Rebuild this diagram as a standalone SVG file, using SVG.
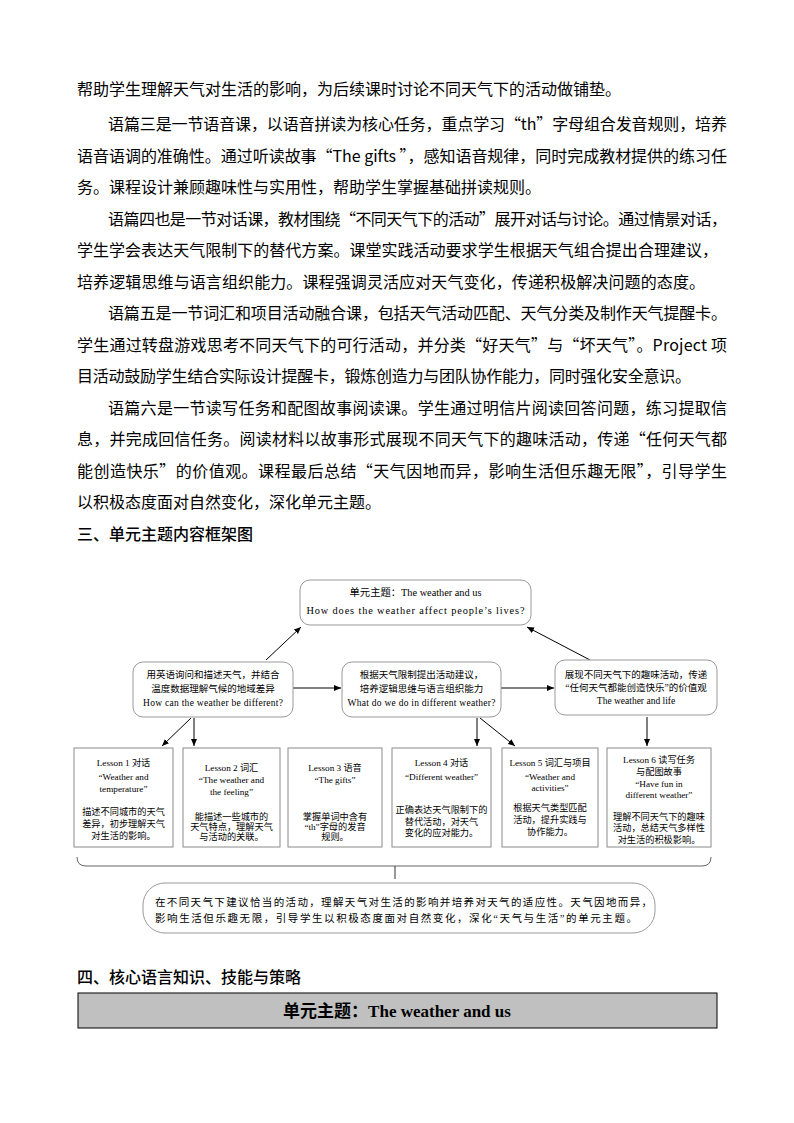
<svg xmlns="http://www.w3.org/2000/svg" width="794" height="1123" viewBox="0 0 794 1123">
<style>
.body{font-family:"Noto Sans CJK SC","Liberation Serif",sans-serif;font-size:16px;fill:#000}
.d{font-family:"Liberation Serif","Noto Sans CJK SC",serif;fill:#000}
.t10{font-size:10.3px}
.t95{font-size:9.5px}
.t9{font-size:9.2px}
.rbox{fill:#fff;stroke:#9a9a9a;stroke-width:1}
.lbox{fill:#fff;stroke:#8a8a8a;stroke-width:1}
.ln{stroke:#000;stroke-width:1;fill:none}
</style>
<defs>
<marker id="ah" markerWidth="8" markerHeight="8" refX="7" refY="4" orient="auto" markerUnits="userSpaceOnUse">
<path d="M0,1 L7,4 L0,7 Z" fill="#000"/>
</marker>
</defs>
<rect width="794" height="1123" fill="#fff"/>

<g id="bodytext">
<text class="body" x="77" y="95">帮助学生理解天气对生活的影响，为后续课时讨论不同天气下的活动做铺垫。</text>
<text class="body" x="108" y="130" textLength="619" lengthAdjust="spacing">语篇三是一节语音课，以语音拼读为核心任务，重点学习“th”字母组合发音规则，培养</text>
<text class="body" x="77" y="161.5" textLength="650" lengthAdjust="spacing">语音语调的准确性。通过听读故事“The gifts ”，感知语音规律，同时完成教材提供的练习任</text>
<text class="body" x="77" y="193">务。课程设计兼顾趣味性与实用性，帮助学生掌握基础拼读规则。</text>
<text class="body" x="108" y="224.5" textLength="619" lengthAdjust="spacing">语篇四也是一节对话课，教材围绕“不同天气下的活动”展开对话与讨论。通过情景对话，</text>
<text class="body" x="77" y="256" textLength="641" lengthAdjust="spacing">学生学会表达天气限制下的替代方案。课堂实践活动要求学生根据天气组合提出合理建议，</text>
<text class="body" x="77" y="287.5" textLength="628" lengthAdjust="spacing">培养逻辑思维与语言组织能力。课程强调灵活应对天气变化，传递积极解决问题的态度。</text>
<text class="body" x="108" y="319" textLength="619" lengthAdjust="spacing">语篇五是一节词汇和项目活动融合课，包括天气活动匹配、天气分类及制作天气提醒卡。</text>
<text class="body" x="77" y="350.5" textLength="650" lengthAdjust="spacing">学生通过转盘游戏思考不同天气下的可行活动，并分类“好天气”与“坏天气”。Project 项</text>
<text class="body" x="77" y="382" textLength="614" lengthAdjust="spacing">目活动鼓励学生结合实际设计提醒卡，锻炼创造力与团队协作能力，同时强化安全意识。</text>
<text class="body" x="108" y="413.5" textLength="619" lengthAdjust="spacing">语篇六是一节读写任务和配图故事阅读课。学生通过明信片阅读回答问题，练习提取信</text>
<text class="body" x="77" y="445" textLength="650" lengthAdjust="spacing">息，并完成回信任务。阅读材料以故事形式展现不同天气下的趣味活动，传递“任何天气都</text>
<text class="body" x="77" y="476.5" textLength="650" lengthAdjust="spacing">能创造快乐”的价值观。课程最后总结“天气因地而异，影响生活但乐趣无限”，引导学生</text>
<text class="body" x="77" y="508">以积极态度面对自然变化，深化单元主题。</text>
<text class="body" x="77" y="539.5" font-weight="500">三、单元主题内容框架图</text>
</g>

<g id="connectors">
<line class="ln" x1="266" y1="660" x2="301" y2="627" marker-end="url(#ah)"/>
<line class="ln" x1="590" y1="660" x2="527" y2="627" marker-end="url(#ah)"/>
<line class="ln" x1="293" y1="688" x2="341" y2="688" marker-end="url(#ah)"/>
<line class="ln" x1="501" y1="688" x2="554" y2="688" marker-end="url(#ah)"/>
<line class="ln" x1="191" y1="718" x2="162" y2="746" marker-end="url(#ah)"/>
<line class="ln" x1="194" y1="718" x2="194" y2="746" marker-end="url(#ah)"/>
<line class="ln" x1="477" y1="718" x2="477" y2="746" marker-end="url(#ah)"/>
<line class="ln" x1="480" y1="718" x2="515" y2="746" marker-end="url(#ah)"/>
<line class="ln" x1="647" y1="717" x2="647" y2="746" marker-end="url(#ah)"/>
<path d="M77,857 Q77,866 86,866 L702,866 Q711,866 711,857" stroke="#666" stroke-width="1" fill="none"/>
<line x1="395" y1="866" x2="395" y2="879" stroke="#333" stroke-width="1"/>
</g>

<g id="top">
<rect class="rbox" x="300" y="580" width="231" height="45" rx="10"/>
<text class="d t10" x="415.5" y="596" text-anchor="middle">单元主题：The weather and us</text>
<text class="d t10" x="415.5" y="614" text-anchor="middle" textLength="218" lengthAdjust="spacing">How does the weather affect people’s lives?</text>
</g>

<g id="mid-left">
<rect class="rbox" x="133" y="662" width="160" height="55" rx="10"/>
<text class="d t95" x="213" y="677.5" text-anchor="middle">用英语询问和描述天气，并结合</text>
<text class="d t95" x="213" y="691.5" text-anchor="middle">温度数据理解气候的地域差异</text>
<text class="d t95" x="213" y="705.5" text-anchor="middle" textLength="140" lengthAdjust="spacing">How can the weather be different?</text>
</g>

<g id="mid-center">
<rect class="rbox" x="342" y="662" width="159" height="55" rx="10"/>
<text class="d t95" x="421.5" y="677.5" text-anchor="middle">根据天气限制提出活动建议，</text>
<text class="d t95" x="421.5" y="691.5" text-anchor="middle">培养逻辑思维与语言组织能力</text>
<text class="d t95" x="421.5" y="705.5" text-anchor="middle" textLength="148" lengthAdjust="spacing">What do we do in different weather?</text>
</g>

<g id="mid-right">
<rect class="rbox" x="555" y="660" width="162" height="55" rx="10"/>
<text class="d t95" x="636" y="678" text-anchor="middle">展现不同天气下的趣味活动，传递</text>
<text class="d t95" x="636" y="690.5" text-anchor="middle">“任何天气都能创造快乐”的价值观</text>
<text class="d t95" x="636" y="704" text-anchor="middle">The weather and life</text>
</g>

<g id="lesson1">
<rect class="lbox" x="74" y="748" width="99" height="99"/>
<text class="d t9" x="123.5" y="766" text-anchor="middle">Lesson 1 对话</text>
<text class="d t9" x="123.5" y="780" text-anchor="middle">“Weather and</text>
<text class="d t9" x="123.5" y="792" text-anchor="middle">temperature”</text>
<text class="d t9" x="123.5" y="815" text-anchor="middle">描述不同城市的天气</text>
<text class="d t9" x="123.5" y="827" text-anchor="middle">差异，初步理解天气</text>
<text class="d t9" x="123.5" y="839" text-anchor="middle">对生活的影响。</text>
</g>

<g id="lesson2">
<rect class="lbox" x="183" y="748" width="97" height="99"/>
<text class="d t9" x="231.5" y="771" text-anchor="middle">Lesson 2 词汇</text>
<text class="d t9" x="231.5" y="783" text-anchor="middle">“The weather and</text>
<text class="d t9" x="231.5" y="795" text-anchor="middle">the feeling”</text>
<text class="d t9" x="231.5" y="820" text-anchor="middle">能描述一些城市的</text>
<text class="d t9" x="231.5" y="830" text-anchor="middle">天气特点，理解天气</text>
<text class="d t9" x="231.5" y="840" text-anchor="middle">与活动的关联。</text>
</g>

<g id="lesson3">
<rect class="lbox" x="288" y="748" width="94" height="99"/>
<text class="d t9" x="335" y="771" text-anchor="middle">Lesson 3 语音</text>
<text class="d t9" x="335" y="783" text-anchor="middle">“The gifts”</text>
<text class="d t9" x="335" y="820" text-anchor="middle">掌握单词中含有</text>
<text class="d t9" x="335" y="830" text-anchor="middle">“th”字母的发音</text>
<text class="d t9" x="335" y="840" text-anchor="middle">规则。</text>
</g>

<g id="lesson4">
<rect class="lbox" x="392" y="748" width="99" height="99"/>
<text class="d t9" x="441.5" y="766" text-anchor="middle">Lesson 4 对话</text>
<text class="d t9" x="441.5" y="780" text-anchor="middle">“Different weather”</text>
<text class="d t9" x="441.5" y="813" text-anchor="middle">正确表达天气限制下的</text>
<text class="d t9" x="441.5" y="825" text-anchor="middle">替代活动，对天气</text>
<text class="d t9" x="441.5" y="836" text-anchor="middle">变化的应对能力。</text>
</g>

<g id="lesson5">
<rect class="lbox" x="502" y="748" width="96" height="99"/>
<text class="d t9" x="550" y="766" text-anchor="middle">Lesson 5 词汇与项目</text>
<text class="d t9" x="550" y="780" text-anchor="middle">“Weather and</text>
<text class="d t9" x="550" y="791" text-anchor="middle">activities”</text>
<text class="d t9" x="550" y="811" text-anchor="middle">根据天气类型匹配</text>
<text class="d t9" x="550" y="823" text-anchor="middle">活动，提升实践与</text>
<text class="d t9" x="550" y="835" text-anchor="middle">协作能力。</text>
</g>

<g id="lesson6">
<rect class="lbox" x="607" y="748" width="104" height="99"/>
<text class="d t9" x="659" y="763" text-anchor="middle">Lesson 6 读写任务</text>
<text class="d t9" x="659" y="775" text-anchor="middle">与配图故事</text>
<text class="d t9" x="659" y="787" text-anchor="middle">“Have fun in</text>
<text class="d t9" x="659" y="798" text-anchor="middle">different weather”</text>
<text class="d t9" x="659" y="820" text-anchor="middle">理解不同天气下的趣味</text>
<text class="d t9" x="659" y="831" text-anchor="middle">活动，总结天气多样性</text>
<text class="d t9" x="659" y="843" text-anchor="middle">对生活的积极影响。</text>
</g>

<g id="summary">
<rect class="rbox" x="143" y="883" width="512" height="50" rx="22"/>
<text class="d" font-size="10.5" x="155" y="905.5" textLength="497" lengthAdjust="spacing">在不同天气下建议恰当的活动，理解天气对生活的影响并培养对天气的适应性。天气因地而异，</text>
<text class="d" font-size="10.5" x="155" y="921.5" textLength="482" lengthAdjust="spacing">影响生活但乐趣无限，引导学生以积极态度面对自然变化，深化“天气与生活”的单元主题。</text>
</g>

<g id="section4">
<text class="body" x="77" y="983" font-weight="500">四、核心语言知识、技能与策略</text>
<rect x="78" y="993" width="639" height="35" fill="#c0c0c0" stroke="#000" stroke-width="1"/>
<text x="397" y="1017" text-anchor="middle" font-family="Liberation Serif,Noto Sans CJK SC,serif" font-size="17" font-weight="bold">单元主题：The weather and us</text>
</g>
</svg>
